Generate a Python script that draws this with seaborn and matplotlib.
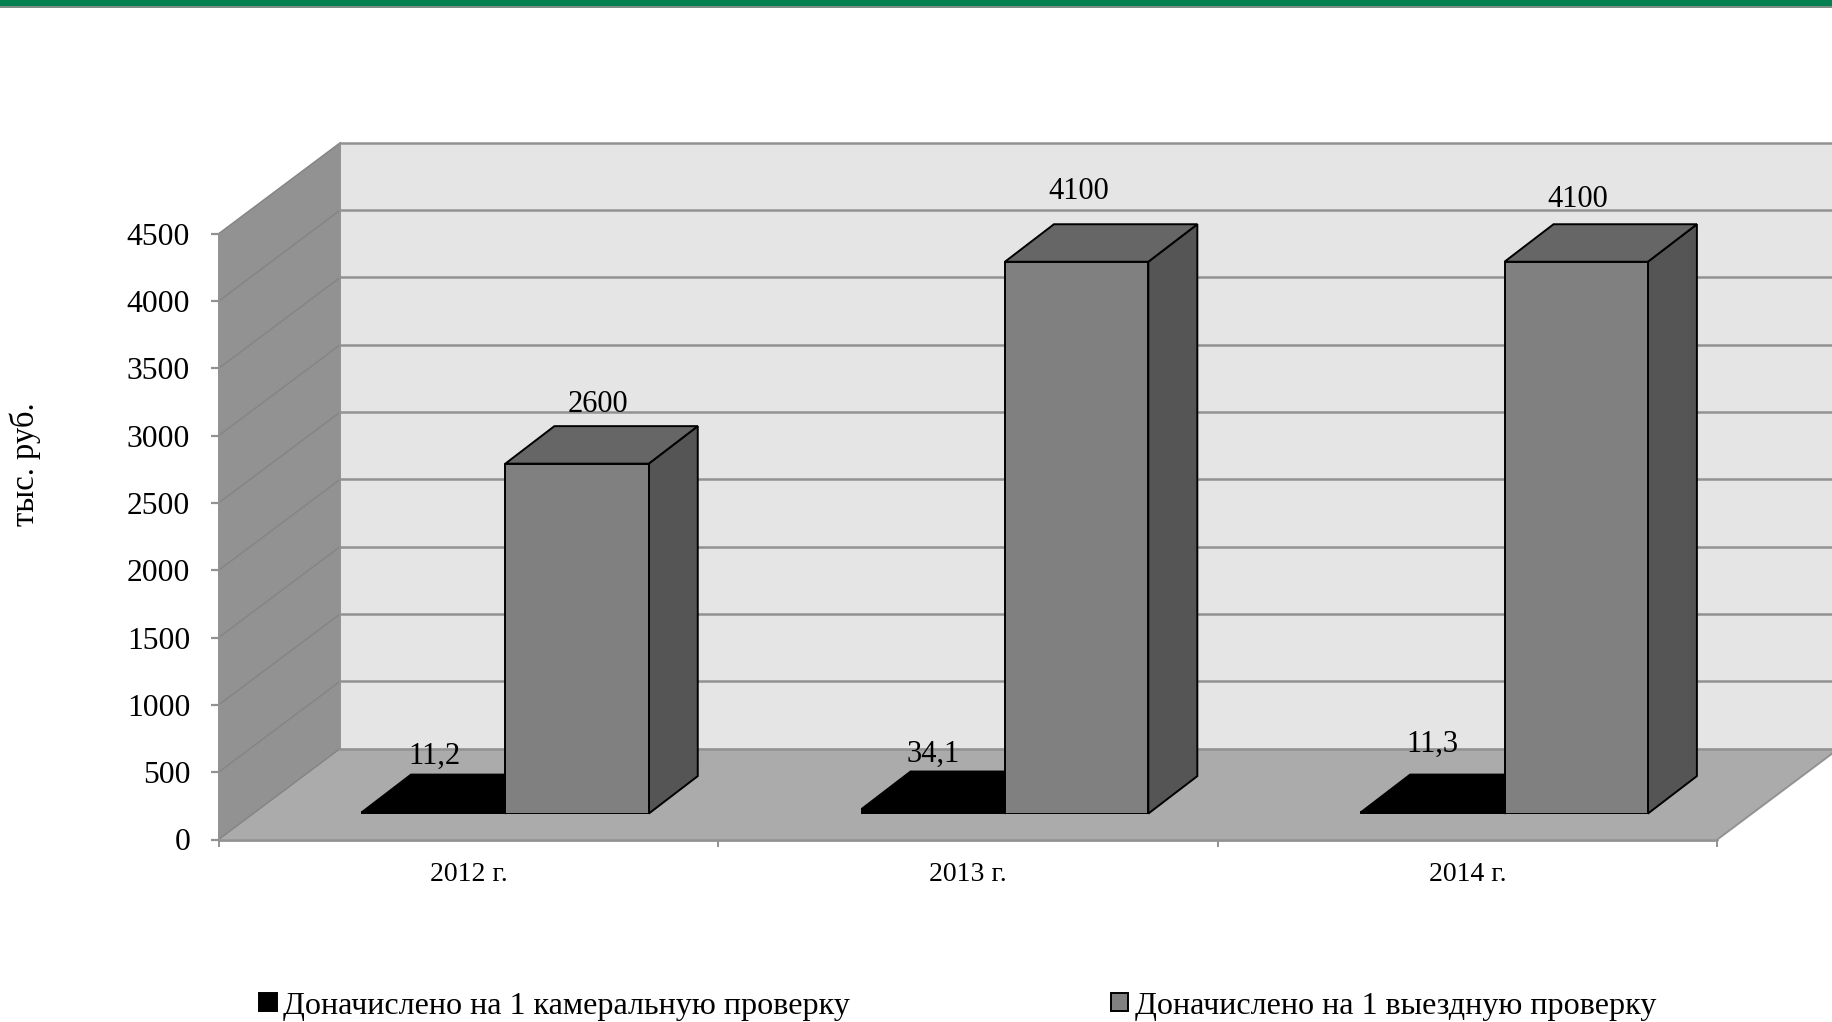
import matplotlib
matplotlib.use("Agg")
import matplotlib.pyplot as plt
import numpy as np
import pandas as pd
import seaborn as sns
from matplotlib.patches import Polygon, Rectangle
from matplotlib.transforms import IdentityTransform

# Values
years = ["2012 г.", "2013 г.", "2014 г."]
series_names = ["Доначислено на 1 камеральную проверку", "Доначислено на 1 выездную проверку"]
desk_values = [11.2, 34.1, 11.3]
field_values = [2600, 4100, 4100]
desk_labels = ["11,2", "34,1", "11,3"]
field_labels = ["2600", "4100", "4100"]
y_ticks = [0, 500, 1000, 1500, 2000, 2500, 3000, 3500, 4000, 4500]

W, H = 1833, 1022
GRID = "#929292"

sns.set_theme(style="white")
plt.rcParams["font.family"] = ["Liberation Serif", "DejaVu Serif"]

df = pd.DataFrame({
    "year": years * 2,
    "value": desk_values + field_values,
    "series": [series_names[0]] * 3 + [series_names[1]] * 3,
})

fig = plt.figure(figsize=(W / 100, H / 100), dpi=100, facecolor="white")


def box(x0, y_top, x1, y_bot):
    # pixel box (from top left) to figure fractions
    return [x0 / W, 1 - y_bot / H, (x1 - x0) / W, (y_bot - y_top) / H]


# Front plane of the fake 3D chart holds the ticks, bars sit further back
ax = fig.add_axes(box(218.6, 233.8, 1717.3, 839.5))
ax_bars = fig.add_axes(box(255.6, 207.9, 1754.3, 813.6))
ax_bars.patch.set_alpha(0)

for a in (ax, ax_bars):
    a.set_xlim(-0.5, 2.5)
    a.set_ylim(0, 4500)

sns.barplot(
    data=df, x="year", y="value", hue="series", order=years,
    palette=["black", "#808080"], saturation=1, width=0.574, gap=0,
    edgecolor="black", linewidth=1.4, ax=ax_bars,
)
ax_bars.set_xlim(-0.5, 2.5)
ax_bars.set_ylim(0, 4500)
handles, labels = ax_bars.get_legend_handles_labels()
ax_bars.get_legend().remove()
ax_bars.axis("off")

# Walls and floor, in screen pixels
to_px = ax.transData.transform
fl, fb = to_px((-0.5, 0))
fr, ft = to_px((2.5, 4500))
DX, DY = 121.6, 91.0


def flat(points, color, z, target=ax, **kw):
    target.add_patch(Polygon(points, closed=True, facecolor=color, transform=IdentityTransform(),
                             clip_on=False, zorder=z, **kw))


flat([(fl, fb), (fl, ft), (fl + DX, ft + DY), (fl + DX, fb + DY)], "#929292", 0.5, linewidth=0)
flat([(fl + DX, fb + DY), (fl + DX, ft + DY), (fr + DX, ft + DY), (fr + DX, fb + DY)], "#e5e5e5", 0.5, linewidth=0)
flat([(fl, fb), (fr, fb), (fr + DX, fb + DY), (fl + DX, fb + DY)], "#ababab", 0.6, linewidth=0)

for v in y_ticks:
    _, py = to_px((0, v))
    ax.plot([fl, fl + DX], [py, py + DY], color="#858585", lw=1.1, transform=IdentityTransform(), clip_on=False, zorder=0.8)
    ax.plot([fl + DX, fr + DX], [py + DY, py + DY], color=GRID, lw=1.8, transform=IdentityTransform(), clip_on=False, zorder=0.8)
ax.plot([fl, fr], [fb, fb], color=GRID, lw=2.0, transform=IdentityTransform(), clip_on=False, zorder=0.9)
ax.plot([fr, fr + DX], [fb, fb + DY], color=GRID, lw=1.4, transform=IdentityTransform(), clip_on=False, zorder=0.9)
ax.plot([fl, fl], [fb, ft], color=GRID, lw=1.4, transform=IdentityTransform(), clip_on=False, zorder=0.9)
ax.plot([fl + DX, fl + DX], [fb + DY, ft + DY], color=GRID, lw=1.4, transform=IdentityTransform(), clip_on=False, zorder=0.9)

# Depth faces of the bars
BDX, BDY = 49.0, 37.5
bar_px = ax_bars.transData.transform
face_colors = [("black", "black"), ("#666666", "#555555")]
for k, cont in enumerate(ax_bars.containers):
    top_c, side_c = face_colors[k]
    base = 3 + 2 * k
    for bar in cont:
        bar.set_zorder(base + 1)
        x0, y0 = bar_px((bar.get_x(), 0))
        x1, y1 = bar_px((bar.get_x() + bar.get_width(), bar.get_height()))
        flat([(x1, y0), (x1, y1), (x1 + BDX, y1 + BDY), (x1 + BDX, y0 + BDY)], side_c, base,
             target=ax_bars, edgecolor="black", linewidth=1.4)
        flat([(x0, y1), (x1, y1), (x1 + BDX, y1 + BDY), (x0 + BDX, y1 + BDY)], top_c, base,
             target=ax_bars, edgecolor="black", linewidth=1.4)

# Hand placed data labels, offsets in pixels from the top of each bar
desk_off = [(1, 56), (0, 55), (0, 68)]
field_off = [(21, 59.5), (2, 70.5), (2, 62.5)]
for k, (texts, offs) in enumerate([(desk_labels, desk_off), (field_labels, field_off)]):
    for bar, txt, off in zip(ax_bars.containers[k], texts, offs):
        ax_bars.annotate(txt, xy=(bar.get_x() + bar.get_width() / 2, bar.get_height()), xytext=off,
                         textcoords="offset pixels", ha="center", va="center",
                         fontsize=22, color="black", zorder=9, annotation_clip=False)

# Axis ticks
ax.patch.set_alpha(0)
for s in ax.spines.values():
    s.set_visible(False)
ax.set_yticks(y_ticks)
ax.set_yticklabels([str(v) for v in y_ticks], fontsize=22.8, color="black")
ax.tick_params(axis="y", left=True, length=5.5, width=1.6, color=GRID, pad=15)
ax.set_xticks([-0.5, 0.5, 1.5, 2.5])
ax.set_xticklabels([])
ax.set_xticks([0, 1, 2], labels=years, minor=True, fontsize=20, color="black")
ax.tick_params(axis="x", which="major", bottom=True, length=5, width=1.4, color=GRID)
ax.tick_params(axis="x", which="minor", bottom=False, length=0, pad=16)
ax.set_xlabel("")
ax.set_ylabel("")

fig.text(25 / W, 1 - 464 / H, "тыс. руб.", rotation=90, fontsize=23.5, ha="center", va="center", color="black")

# Green strip at the top of the slide
fig.add_artist(Rectangle((0, 1 - 6.5 / H), 1, 6.5 / H, transform=fig.transFigure, facecolor="#058050", linewidth=0))
fig.add_artist(Rectangle((0, 1 - 8 / H), 1, 1.5 / H, transform=fig.transFigure, facecolor="#7f8f88", linewidth=0))

fig.legend(
    handles, labels, ncol=2, frameon=False, fontsize=23.1,
    loc="center left", bbox_to_anchor=(259 / W, 1 - 1006 / H),
    handlelength=0.55, handleheight=0.5, handletextpad=0.2, columnspacing=8.13,
    borderpad=0, borderaxespad=0,
)
for t in fig.legends[0].get_texts():
    t.set_color("black")

fig.savefig("out.png", dpi=100, facecolor="white")
